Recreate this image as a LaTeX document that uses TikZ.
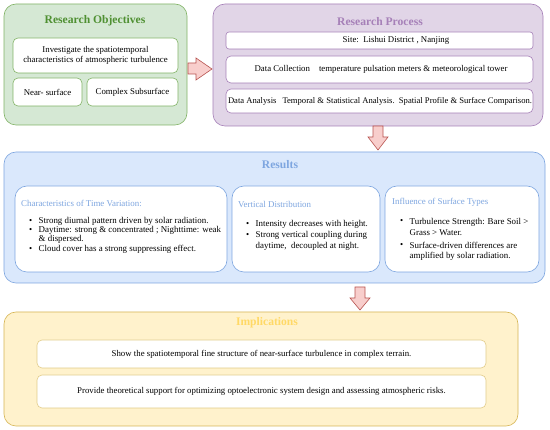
\documentclass[tikz,border=0pt]{standalone}
\usepackage{fontspec}
\setmainfont{Liberation Serif}
\begin{document}
\begin{tikzpicture}[x=1pt,y=-1pt,
  inner/.style={draw=#1, fill=white, line width=0.6pt, rounded corners=5pt, inner sep=0pt},
  ttl/.style={font=\fontsize{11.6}{13}\selectfont\bfseries, text=#1},
  body/.style={font=\fontsize{8.8}{10}\selectfont, inner sep=0pt},
  bl/.style={font=\fontsize{8.9}{10}\selectfont, inner sep=0pt, anchor=west},
  hd/.style={font=\fontsize{8.9}{10}\selectfont, inner sep=0pt, anchor=west, text=bluet},
  blk/.style={draw=redb, fill=redf, line width=0.6pt, line join=miter}
]
\definecolor{greenf}{HTML}{D5E8D4}\definecolor{greenb}{HTML}{82B366}\definecolor{greent}{HTML}{4F9032}
\definecolor{purf}{HTML}{E1D5E7}\definecolor{purb}{HTML}{A680B8}\definecolor{purt}{HTML}{A680B8}
\definecolor{bluef}{HTML}{DAE8FC}\definecolor{blueb}{HTML}{7EA6E0}\definecolor{bluet}{HTML}{7EA6E0}
\definecolor{yelf}{HTML}{FFF2CC}\definecolor{yelb}{HTML}{D6B656}\definecolor{yelt}{HTML}{FFD966}
\definecolor{redf}{HTML}{F8CECC}\definecolor{redb}{HTML}{B85450}
\useasboundingbox (0,0) rectangle (550,430);
\fill[white] (0,0) rectangle (550,430);

% ---------- Research Objectives ----------
\node[draw=greenb, fill=greenf, line width=0.6pt, rounded corners=12pt, minimum width=183pt, minimum height=121pt, inner sep=0pt] (obj) at (95.5,64.5) {};
\node[ttl=greent] (objt) at (95,21) {Research Objectives};
\node[inner=greenb, minimum width=165pt, minimum height=35pt, align=center, body] (inv) at (95.5,55.5) {Investigate the spatiotemporal\\[-0.5pt]characteristics of atmospheric turbulence};
\node[inner=greenb, minimum width=69pt, minimum height=28pt, body] (near) at (47.5,92) {Near- surface};
\node[inner=greenb, minimum width=91pt, minimum height=28pt, body] (cplx) at (132.5,92) {Complex Subsurface};

% ---------- Research Process ----------
\node[draw=purb, fill=purf, line width=0.6pt, rounded corners=12pt, minimum width=330pt, minimum height=122pt, inner sep=0pt] (proc) at (378,65) {};
\node[ttl=purt] (proct) at (380,22) {Research Process};
\node[inner=purb, minimum width=307pt, minimum height=17pt, rounded corners=3pt] (site) at (379.5,40.5) {};
\node[body] (sitet) at (396,40.5) {Site:\ \ Lishui District , Nanjing};
\node[inner=purb, minimum width=307pt, minimum height=27pt] (coll) at (379.5,69.5) {};
\node[body] (collt) at (381,69.5) {Data Collection\hspace{9pt}temperature pulsation meters \& meteorological tower};
\node[inner=purb, minimum width=307pt, minimum height=24pt] (ana) at (379.5,101) {};
\node[body, font=\fontsize{8.6}{10}\selectfont] (anat) at (380,101) {Data Analysis\hspace{6pt}Temporal \& Statistical Analysis.\ \ Spatial Profile \& Surface Comparison.};

% ---------- Results ----------
\node[draw=blueb, fill=bluef, line width=0.6pt, rounded corners=12pt, minimum width=541pt, minimum height=131pt, inner sep=0pt] (res) at (274.5,217.5) {};
\node[ttl=bluet] (rest) at (280,165) {Results};
\node[inner=blueb, rounded corners=12pt, minimum width=212pt, minimum height=86pt] (r1) at (121,229) {};
\node[inner=blueb, rounded corners=12pt, minimum width=148pt, minimum height=86pt] (r2) at (306,229) {};
\node[inner=blueb, rounded corners=12pt, minimum width=154pt, minimum height=86pt] (r3) at (462,229) {};

\node[hd] (h1) at (21,203) {Characteristics of Time Variation:};
\node[bl] (b11) at (29,221) {\textbullet};
\node[bl] (t11) at (38.5,221) {Strong diurnal pattern driven by solar radiation.};
\node[bl] (b12) at (29,230.5) {\textbullet};
\node[bl] (t12) at (38.5,230.5) {Daytime: strong \& concentrated ; Nighttime: weak};
\node[bl] (t12b) at (38.5,239.5) {\& dispersed.};
\node[bl] (b13) at (29,249) {\textbullet};
\node[bl] (t13) at (38.5,249) {Cloud cover has a strong suppressing effect.};

\node[hd] (h2) at (238,204) {Vertical Distribution};
\node[bl] (b21) at (246,224) {\textbullet};
\node[bl] (t21) at (255.5,224) {Intensity decreases with height.};
\node[bl] (b22) at (246,235) {\textbullet};
\node[bl] (t22) at (255.5,235) {Strong vertical coupling during};
\node[bl] (t22b) at (255.5,246.5) {daytime,\ \ decoupled at night.};

\node[hd] (h3) at (392,202) {Influence of Surface Types};
\node[bl] (b31) at (400,222) {\textbullet};
\node[bl] (t31) at (409.5,222) {Turbulence Strength: Bare Soil >};
\node[bl] (t31b) at (409.5,233) {Grass > Water.};
\node[bl] (b32) at (400,245) {\textbullet};
\node[bl] (t32) at (409.5,245) {Surface-driven differences are};
\node[bl] (t32b) at (409.5,256) {amplified by solar radiation.};

% ---------- Implications ----------
\node[draw=yelb, fill=yelf, line width=0.6pt, rounded corners=12pt, minimum width=514pt, minimum height=114pt, inner sep=0pt] (imp) at (261,369) {};
\node[ttl=yelt] (impt) at (267,323) {Implications};
\node[inner=yelb!70, minimum width=449pt, minimum height=28pt, body] (i1) at (261.5,354) {Show the spatiotemporal fine structure of near-surface turbulence in complex terrain.};
\node[inner=yelb!70, minimum width=449pt, minimum height=33pt, body] (i2) at (261.5,391.5) {Provide theoretical support for optimizing optoelectronic system design and assessing atmospheric risks.};

% ---------- block arrows ----------
\draw[blk] (188,63) -- (196,63) -- (196,58) -- (212,69) -- (196,80) -- (196,74) -- (188,74) -- cycle;
\draw[blk] (373,126) -- (383,126) -- (383,137) -- (388,137) -- (378,150) -- (368,137) -- (373,137) -- cycle;
\draw[blk] (355,287) -- (365,287) -- (365,298) -- (370,298) -- (360,310) -- (350,298) -- (355,298) -- cycle;
\end{tikzpicture}
\end{document}
